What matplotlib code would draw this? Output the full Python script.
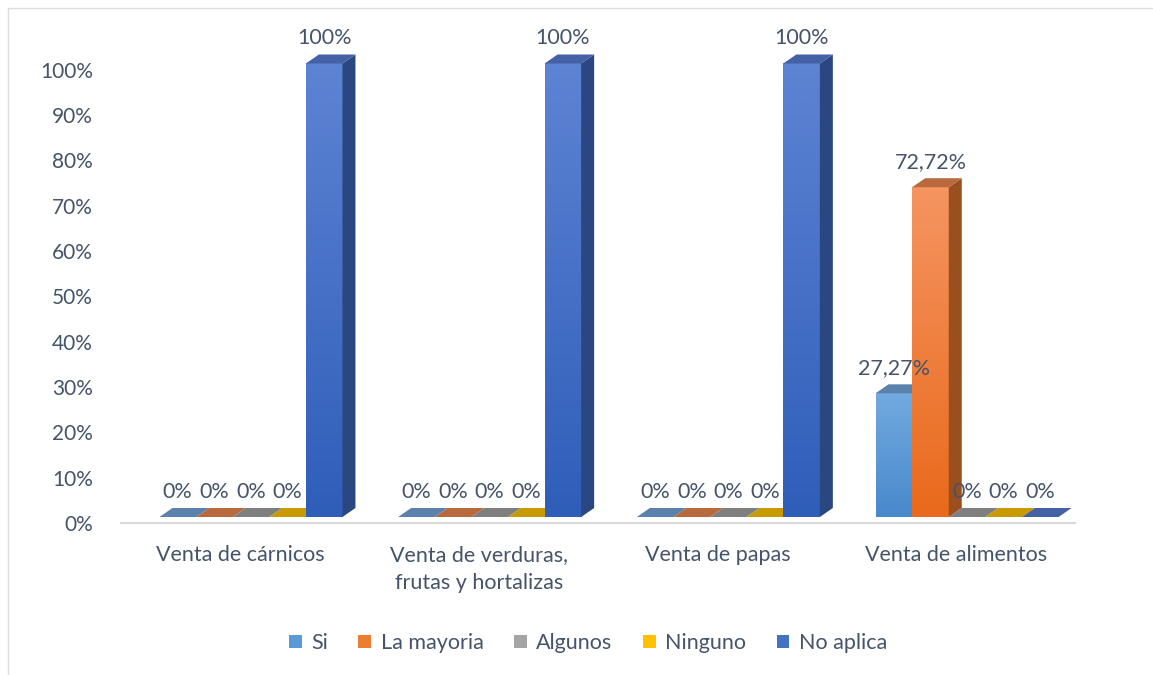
import numpy as np
import matplotlib
matplotlib.use('Agg')
import matplotlib.pyplot as plt
from matplotlib.patches import Polygon, Rectangle
from matplotlib.colors import LinearSegmentedColormap

plt.rcParams['font.family'] = ['Lato', 'DejaVu Sans']

categorias = ['Venta de cárnicos', 'Venta de verduras,\nfrutas y hortalizas',
              'Venta de papas', 'Venta de alimentos']
series = ['Si', 'La mayoria', 'Algunos', 'Ninguno', 'No aplica']
si = [0, 0, 0, 27.27]
la_mayoria = [0, 0, 0, 72.72]
algunos = [0, 0, 0, 0]
ninguno = [0, 0, 0, 0]
no_aplica = [100, 100, 100, 0]
valores = [si, la_mayoria, algunos, ninguno, no_aplica]
etiquetas = [['0%', '0%', '0%', '27,27%'],
             ['0%', '0%', '0%', '72,72%'],
             ['0%', '0%', '0%', '0%'],
             ['0%', '0%', '0%', '0%'],
             ['100%', '100%', '100%', '0%']]

# colores: (frente arriba, frente abajo, tapa, lado)
colores = [('#72a9df', '#4889cc', '#5a82ad', '#3f6e9c'),
           ('#f59460', '#e96a1c', '#b86a3e', '#9a4f1f'),
           ('#b5b5b5', '#979797', '#7f7f7f', '#6a6a6a'),
           ('#ffcb2e', '#f0b400', '#c79a00', '#a37e00'),
           ('#5d83d3', '#2f5eb9', '#4361a4', '#2b4781')]
leyenda_col = ['#5b9bd5', '#ed7d31', '#a5a5a5', '#ffc000', '#4472c4']
txt = '#44546a'
fs = 15.5

W, H = 1153, 675
fig = plt.figure(figsize=(W / 100, H / 100), dpi=100)
fig.patches.append(Rectangle((8 / W, -0.1), 1.2, 1 - 8 / H + 0.1, transform=fig.transFigure,
                             fill=False, edgecolor='#d9dde3', linewidth=1))

y0_px, y100_px = 523, 69.5
ppu = (y0_px - y100_px) / 100
ytop = 110
ax = fig.add_axes([120.6 / W, (H - y0_px) / H, 954.8 / W, (ytop * ppu) / H])
ax.set_xlim(-0.5, 3.5)
ax.set_ylim(0, ytop)

px_x = 954.8 / 4  # pixeles por categoria
bw = 36.6 / px_x
desp = 11 / px_x
dx = 13 / px_x
dy = 9 / ppu
base = 6 / ppu

x = np.arange(len(categorias))
for i, (vals, col) in enumerate(zip(valores, colores)):
    cmap = LinearSegmentedColormap.from_list('g%d' % i, [col[1], col[0]])
    for j, v in enumerate(vals):
        x0 = x[j] - 2.5 * bw + desp + i * bw
        x1 = x0 + bw
        top = base + v
        if v > 0:
            grad = np.linspace(0, 1, 64).reshape(-1, 1)
            ax.imshow(grad, extent=[x0, x1, base, top], origin='lower', aspect='auto',
                      cmap=cmap, zorder=2 + i * 0.01, interpolation='bilinear')
            ax.add_patch(Polygon([(x1, base), (x1 + dx, base + dy), (x1 + dx, top + dy), (x1, top)],
                                 closed=True, facecolor=col[3], edgecolor='none', zorder=2 + i * 0.01))
        ax.add_patch(Polygon([(x0, top), (x1, top), (x1 + dx, top + dy), (x0 + dx, top + dy)],
                             closed=True, facecolor=col[2], edgecolor='none', zorder=2 + i * 0.01))
        ax.annotate(etiquetas[i][j], (x0 + bw / 2, top), xytext=(0, 25), textcoords='offset pixels',
                    ha='center', va='center', fontsize=fs, color=txt, zorder=5)

ax.set_xticks(x)
ax.set_xticklabels(categorias, fontsize=fs, color=txt, linespacing=1.5)
ax.set_yticks(np.arange(0, 101, 10))
ax.set_yticklabels(['%d%%' % t for t in range(0, 101, 10)], fontsize=15, color=txt)
ax.tick_params(axis='both', length=0)
ax.tick_params(axis='x', pad=16)
ax.tick_params(axis='y', pad=20)
for s in ['top', 'right', 'left']:
    ax.spines[s].set_visible(False)
ax.spines['bottom'].set_color('#d9d9d9')
ax.spines['bottom'].set_linewidth(1.5)

handles = [Rectangle((0, 0), 1, 1, facecolor=c) for c in leyenda_col]
fig.legend(handles, series, loc='center', bbox_to_anchor=(588 / W, 1 - 643 / H), ncol=5,
           frameon=False, fontsize=fs, labelcolor=txt, handlelength=0.6, handleheight=0.6,
           handletextpad=0.45, columnspacing=1.4)

fig.savefig('out.png', dpi=100)
